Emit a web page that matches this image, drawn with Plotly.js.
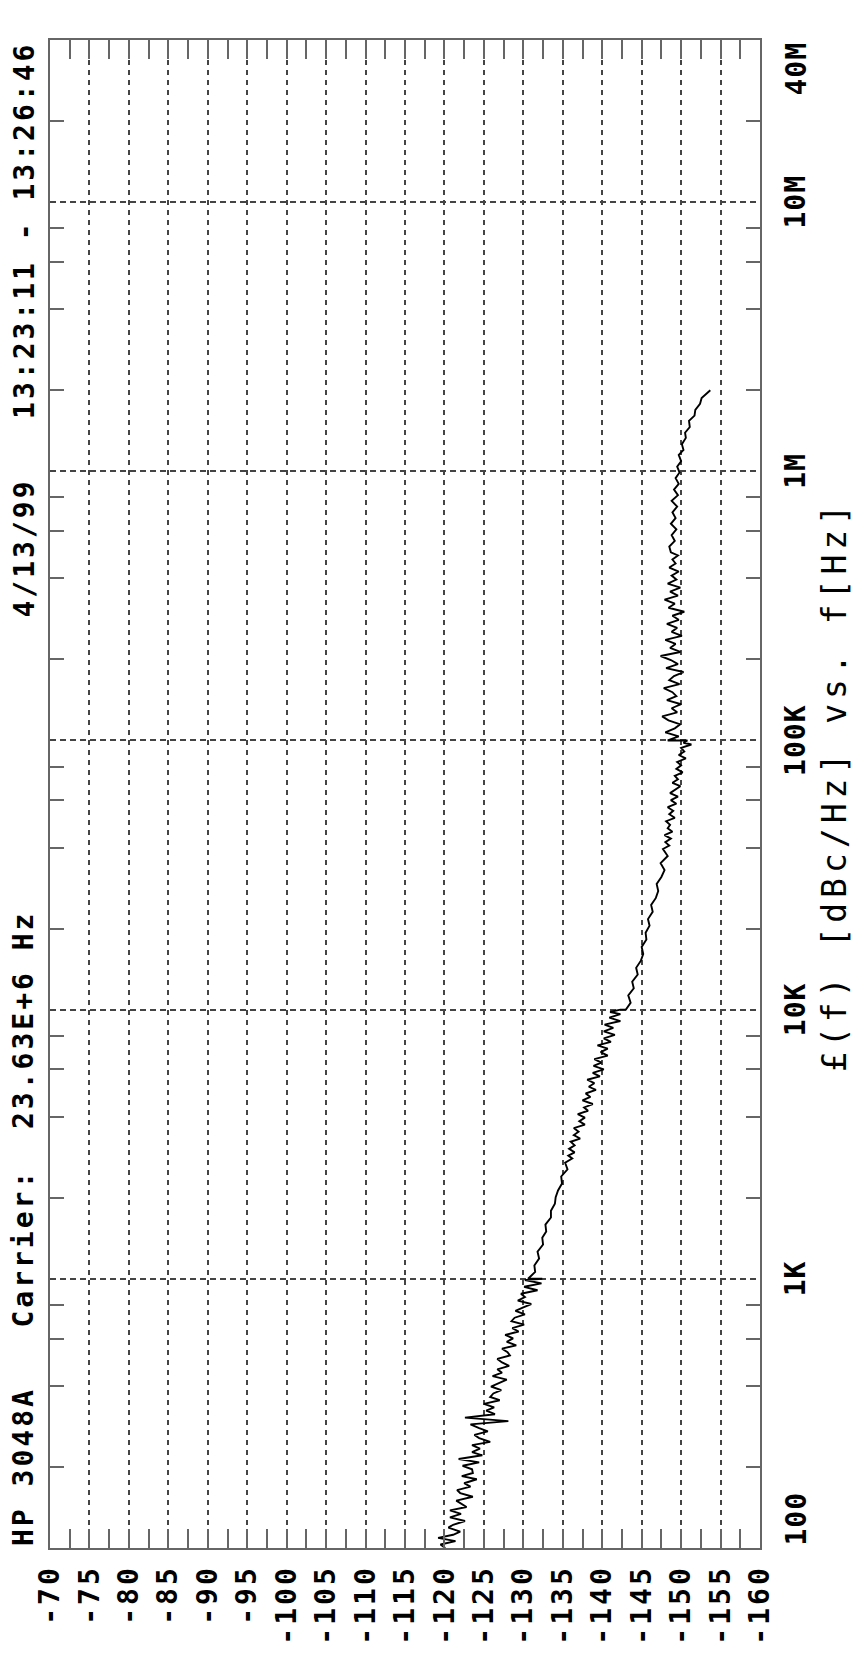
<!DOCTYPE html>
<html><head><meta charset="utf-8">
<script src="https://cdn.plot.ly/plotly-3.0.1.min.js"></script>
<style>html,body{margin:0;padding:0;background:#fff;}</style>
</head><body>
<div id="chart" style="width:853px;height:1662px;"></div>
<script>
// ---- data ----
const segA_freq = [100,103,106,109,112,115,119,122,126,130,134,138,142,146,150,155,160,164,169,174,180,185,190,196,202,208,214,221,227,234,241,248,256,263,271,279,288,296,305,314,324,333,343,354,364,375,386,398,410,422,435,448,461,475,489,504,519,534,550,566,583,601,619,637,656,676,696,717,738,760,783,806,830,855,880,907,934,962,990,1000];
const segA_dbc = [-120.1,-119.5,-121.4,-119.2,-121.1,-122.0,-120.5,-121.1,-122.6,-120.7,-122.1,-120.7,-122.8,-122.2,-121.5,-123.6,-122.0,-121.6,-123.3,-122.5,-124.1,-122.2,-123.6,-123.5,-122.3,-124.4,-121.8,-124.8,-123.5,-124.5,-123.5,-125.8,-124.4,-123.8,-125.5,-124.4,-123.3,-128.1,-122.6,-126.4,-125.3,-126.3,-125.0,-127.0,-125.8,-126.2,-127.2,-125.9,-127.0,-127.9,-126.1,-127.3,-126.7,-128.2,-127.3,-126.7,-128.3,-128.0,-127.3,-129.1,-127.9,-128.7,-127.7,-129.4,-128.6,-130.1,-128.5,-128.9,-130.2,-129.0,-130.0,-131.0,-129.3,-130.2,-129.7,-131.8,-130.1,-132.3,-130.2,-132.4];

const segB_freq = [1000,1060,1120,1190,1260,1340,1420,1500,1590,1690,1790,1900,2010,2130,2260,2400,2550,2700,2800,2870,2950,3040,3130,3230,3320,3420,3520,3630,3740,3850,3970,4090,4210,4330,4460,4600,4740,4880,5030,5170,5330,5490,5650,5820,6000,6180,6360,6550,6750,6950,7160,7370,7590,7820,8060,8300,8550,8800,9070,9340,9620,9800,10000];
const segB_dbc = [-130.6,-131.5,-131.4,-132.0,-131.8,-132.5,-132.4,-132.9,-132.8,-133.5,-133.5,-134.0,-134.1,-134.4,-134.9,-134.8,-135.6,-135.3,-136.2,-135.7,-136.5,-135.8,-136.5,-136.0,-137.2,-136.4,-137.0,-136.4,-137.8,-137.1,-137.8,-136.9,-138.2,-137.7,-138.8,-137.5,-138.5,-137.9,-139.2,-138.3,-139.0,-138.1,-139.7,-138.8,-140.2,-138.9,-139.9,-139.0,-140.7,-139.8,-140.7,-139.4,-141.1,-140.2,-141.6,-140.2,-141.4,-140.3,-142.3,-140.9,-142.3,-141.0,-142.3];

const segC_freq = [10000,10600,11300,12000,12700,13500,14300,15200,16100,17100,18200,19300,20500,21700,23100,24500,26000,27600,29300,31100,33000,35000,37200,39500,40700,41900,43200,44500,45800,47200,48600,50100,51600,53200,54800,56500,58200,60000,61800,63700,65600,67600,69600,71700,73900,76100,78400,80800,83200,85800,88300,91000,93800,96600,98000,100000];
const segC_dbc = [-143.0,-143.6,-143.3,-144.0,-143.8,-144.5,-144.3,-144.9,-145.2,-145.0,-145.6,-145.5,-146.0,-145.8,-146.4,-146.2,-146.8,-147.1,-146.9,-147.5,-147.9,-147.4,-148.3,-147.7,-148.5,-148.0,-148.7,-147.9,-148.9,-148.3,-148.6,-148.1,-149.2,-148.5,-149.0,-148.3,-149.4,-148.7,-149.6,-148.6,-149.3,-149.9,-148.9,-149.6,-149.2,-150.2,-149.4,-150.0,-149.5,-150.6,-149.7,-150.4,-150.0,-151.3,-150.3,-150.8];

const segD_freq = [100000,103500,107100,110900,114800,118800,122900,127200,131700,136300,141100,146000,151100,156400,161900,167500,173400,179500,185700,192200,199000,205900,213100,220600,228300,236300,244600,253100,262000,271100,280600,290500,300600,311200,322000,333300,345000,357100,369600,382500,395900,409700,424100,438900,454300,470200,486600,500000,525000,551000,579000,608000,638000,670000,704000,739000,776000,815000,855000,898000,943000,990000,1040000,1090000,1150000,1200000,1260000,1330000,1390000,1460000,1540000,1610000,1690000,1780000,1870000,1960000,2000000];
const segD_dbc = [-148.3,-149.7,-148.0,-149.2,-149.9,-148.4,-147.6,-149.5,-148.8,-150.0,-148.2,-149.4,-148.9,-147.8,-149.8,-148.5,-149.1,-150.3,-148.1,-149.6,-148.7,-147.4,-149.9,-148.6,-149.3,-148.0,-150.1,-148.8,-149.5,-148.2,-149.7,-148.9,-150.4,-148.4,-149.2,-147.9,-149.6,-148.6,-149.9,-148.3,-149.4,-148.8,-149.7,-148.5,-149.3,-148.9,-149.6,-148.7,-148.5,-149.2,-148.8,-149.4,-148.7,-149.3,-148.9,-149.5,-148.8,-149.6,-149.1,-149.7,-149.3,-149.8,-149.5,-150.0,-149.7,-150.3,-150.1,-150.6,-150.5,-151.1,-151.0,-151.7,-151.8,-152.4,-152.6,-153.4,-153.7];

const dbTickVals = [-70,-75,-80,-85,-90,-95,-100,-105,-110,-115,-120,-125,-130,-135,-140,-145,-150,-155,-160];
const dbTickText = ['-70','-75','-80','-85','-90','-95','-100','-105','-110','-115','-120','-125','-130','-135','-140','-145','-150','-155','-160'];
const freqGridVals = [1e3,1e4,1e5,1e6,1e7];
const freqMinorVals = [200,400,600,800,2e3,4e3,6e3,8e3,2e4,4e4,6e4,8e4,2e5,4e5,6e5,8e5,2e6,4e6,6e6,8e6,2e7];
const freqLabelVals = [100,1e3,1e4,1e5,1e6,1e7,4e7];
const freqLabelText = ['100','1K','10K','100K','1M','10M','40M'];
const headerInstrument = 'HP 3048A\u00a0\u00a0\u00a0Carrier:\u00a0\u00a023.63E+6 Hz';
const headerDate = '4/13/99\u00a0\u00a0\u00a013:23:11 - 13:26:46';
const axisTitle = '£(f) [dBc/Hz] vs. f[Hz]';

// ---- chart ----
const freq = segA_freq.concat(segB_freq, segC_freq, segD_freq);
const dbc = segA_dbc.concat(segB_dbc, segC_dbc, segD_dbc);

const MONO = 'DejaVu Sans Mono, monospace';
const frameColor = '#666666';
const gridColor = '#444444';

function sp(t, ls) { return '<span style="letter-spacing:' + ls + 'px">' + t + '</span>'; }
const boldFont = {family: MONO, size: 28, weight: 'bold', color: '#000'};

const annotations = [];
freqLabelVals.forEach((v, i) => {
  let ya = 'middle';
  if (i === 0) ya = 'bottom';
  if (i === freqLabelVals.length - 1) ya = 'top';
  annotations.push({
    xref: 'paper', yref: 'y', x: 1, y: Math.log10(v), xanchor: 'left', yanchor: ya,
    xshift: 17, text: sp(freqLabelText[i], 1), showarrow: false, textangle: -90,
    font: boldFont
  });
});
annotations.push({
  xref: 'paper', yref: 'paper', x: 0, y: 0, xanchor: 'right', yanchor: 'bottom',
  xshift: -8, text: sp(headerInstrument, 3), showarrow: false, textangle: -90,
  font: boldFont
});
annotations.push({
  xref: 'paper', yref: 'paper', x: 0, y: 1, xanchor: 'right', yanchor: 'top',
  xshift: -8, text: sp(headerDate, 3), showarrow: false, textangle: -90,
  font: boldFont
});
annotations.push({
  xref: 'paper', yref: 'paper', x: 1, y: 0.505, xanchor: 'left', yanchor: 'middle',
  xshift: 53, text: sp(axisTitle, 5), showarrow: false, textangle: -90,
  font: {family: MONO, size: 33, color: '#000'}
});

const trace = {
  x: dbc, y: freq, type: 'scatter', mode: 'lines',
  line: {color: '#000', width: 1.9}, hoverinfo: 'skip'
};

const layout = {
  width: 853, height: 1662,
  margin: {l: 50, r: 93, t: 40, b: 114},
  paper_bgcolor: '#fff', plot_bgcolor: '#fff',
  showlegend: false,
  xaxis: {
    range: [-70, -160], autorange: false,
    tickmode: 'array', tickvals: dbTickVals, ticktext: dbTickText.map(t => sp(t, 3)),
    tickangle: -90, ticks: 'inside', ticklen: 19, tickwidth: 2, tickcolor: frameColor,
    ticklabelstandoff: 4,
    tickfont: boldFont,
    showline: true, linecolor: frameColor, linewidth: 2, mirror: 'ticks',
    showgrid: true, gridcolor: gridColor, gridwidth: 2, griddash: '5px,5px',
    zeroline: false,
    minor: {dtick: 2.5, tick0: -70, ticks: 'inside', ticklen: 19, tickwidth: 2, tickcolor: frameColor, showgrid: false}
  },
  yaxis: {
    type: 'log', range: [2, Math.log10(4e7)], autorange: false,
    tickmode: 'array', tickvals: freqGridVals, showticklabels: false,
    ticks: 'inside', ticklen: 0, tickcolor: frameColor,
    showline: true, linecolor: frameColor, linewidth: 2, mirror: 'ticks',
    showgrid: true, gridcolor: gridColor, gridwidth: 2, griddash: '6px,4px',
    zeroline: false,
    minor: {tickmode: 'array', tickvals: freqMinorVals, ticks: 'inside', ticklen: 14, tickwidth: 2, tickcolor: frameColor, showgrid: false}
  },
  annotations: annotations
};

Plotly.newPlot('chart', [trace], layout, {staticPlot: true, displayModeBar: false});
</script>
</body></html>
